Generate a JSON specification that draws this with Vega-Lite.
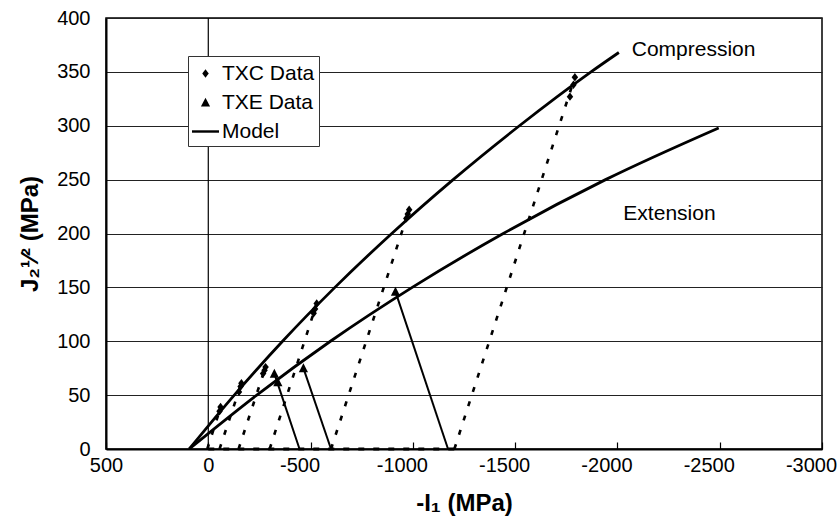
{
  "$schema": "https://vega.github.io/schema/vega-lite/v6.json",
  "width": 716,
  "height": 431,
  "autosize": {"type": "none"},
  "padding": {"left": 106, "top": 18, "right": 16, "bottom": 68},
  "config": {
    "font": "Liberation Sans",
    "view": {"stroke": "black", "strokeWidth": 1.5},
    "axis": {
      "domainColor": "black", "domainWidth": 2,
      "labelColor": "black", "labelFont": "Liberation Sans", "labelFontSize": 20,
      "titleFont": "Liberation Sans", "titleFontSize": 24, "titleFontWeight": "bold", "titleColor": "black",
      "gridColor": "#222", "gridWidth": 1, "gridOpacity": 1, "tickColor": "black"
    }
  },
  "datasets": {
    "zero": [{"x": 0, "y": 0, "y2": 400}],
    "model": [
      {"curve": "Compression", "x": 93, "y": 0},
      {"curve": "Compression", "x": -127, "y": 50},
      {"curve": "Compression", "x": -363, "y": 100},
      {"curve": "Compression", "x": -619, "y": 150},
      {"curve": "Compression", "x": -897, "y": 200},
      {"curve": "Compression", "x": -1197, "y": 250},
      {"curve": "Compression", "x": -1521, "y": 300},
      {"curve": "Compression", "x": -1871, "y": 350},
      {"curve": "Compression", "x": -2007, "y": 368},
      {"curve": "Extension", "x": 93, "y": 0},
      {"curve": "Extension", "x": -237, "y": 50},
      {"curve": "Extension", "x": -597, "y": 100},
      {"curve": "Extension", "x": -997, "y": 150},
      {"curve": "Extension", "x": -1442, "y": 200},
      {"curve": "Extension", "x": -1942, "y": 250},
      {"curve": "Extension", "x": -2495, "y": 298}
    ],
    "loading": [
      {"path": "p1", "x": 5, "y": 0}, {"path": "p1", "x": -58, "y": 37},
      {"path": "p2", "x": -55, "y": 0}, {"path": "p2", "x": -160, "y": 60},
      {"path": "p3", "x": -148, "y": 0}, {"path": "p3", "x": -278, "y": 75},
      {"path": "p4", "x": -300, "y": 0}, {"path": "p4", "x": -528, "y": 134},
      {"path": "p5", "x": -600, "y": 0}, {"path": "p5", "x": -980, "y": 221},
      {"path": "p6", "x": -1203, "y": 0}, {"path": "p6", "x": -1790, "y": 344}
    ],
    "txepaths": [
      {"path": "u1", "x": -446, "y": 0}, {"path": "u1", "x": -323, "y": 70},
      {"path": "u2", "x": -600, "y": 0}, {"path": "u2", "x": -465, "y": 75},
      {"path": "u3", "x": -1172, "y": 0}, {"path": "u3", "x": -915, "y": 146}
    ],
    "hydro": [{"x": 0, "y": 0}, {"x": -1210, "y": 0}],
    "points": [
      {"series": "TXC Data", "x": -55, "y": 35},
      {"series": "TXC Data", "x": -60, "y": 39},
      {"series": "TXC Data", "x": -150, "y": 53},
      {"series": "TXC Data", "x": -158, "y": 58},
      {"series": "TXC Data", "x": -162, "y": 61},
      {"series": "TXC Data", "x": -268, "y": 70},
      {"series": "TXC Data", "x": -275, "y": 73},
      {"series": "TXC Data", "x": -280, "y": 76},
      {"series": "TXC Data", "x": -515, "y": 126},
      {"series": "TXC Data", "x": -522, "y": 130},
      {"series": "TXC Data", "x": -530, "y": 135},
      {"series": "TXC Data", "x": -968, "y": 214},
      {"series": "TXC Data", "x": -975, "y": 218},
      {"series": "TXC Data", "x": -982, "y": 222},
      {"series": "TXC Data", "x": -1768, "y": 327},
      {"series": "TXC Data", "x": -1785, "y": 338},
      {"series": "TXC Data", "x": -1792, "y": 345},
      {"series": "TXE Data", "x": -323, "y": 70},
      {"series": "TXE Data", "x": -340, "y": 62},
      {"series": "TXE Data", "x": -465, "y": 75},
      {"series": "TXE Data", "x": -915, "y": 146}
    ],
    "labels": [
      {"label": "Compression", "x": -2070, "y": 370},
      {"label": "Extension", "x": -2029, "y": 218}
    ]
  },
  "encoding": {
    "x": {
      "field": "x", "type": "quantitative",
      "scale": {"domain": [-3000, 500], "reverse": true, "nice": false, "zero": false},
      "axis": {
        "title": "-I₁ (MPa)", "values": [500, 0, -500, -1000, -1500, -2000, -2500, -3000],
        "labelExpr": "'' + datum.value", "grid": false, "ticks": true, "tickSize": -7, "tickWidth": 1.2,
        "labelOffset": {"condition": {"test": "datum.value < 0", "value": -11}, "value": 0},
        "labelPadding": 13, "titlePadding": 16, "labelFlush": false, "labelOverlap": false
      }
    },
    "y": {
      "field": "y", "type": "quantitative",
      "scale": {"domain": [0, 400], "nice": false},
      "axis": {
        "title": "J₂¹⁄² (MPa)", "values": [0, 50, 100, 150, 200, 250, 300, 350, 400],
        "grid": true, "ticks": false, "labelPadding": 16, "titlePadding": 14, "labelOverlap": false
      }
    }
  },
  "layer": [
    {
      "data": {"name": "zero"},
      "mark": {"type": "rule", "color": "black", "strokeWidth": 1.2},
      "encoding": {"y2": {"field": "y2"}}
    },
    {
      "data": {"name": "hydro"},
      "mark": {"type": "line", "color": "black", "strokeWidth": 3, "strokeDash": [6, 9]},
      "encoding": {}
    },
    {
      "data": {"name": "loading"},
      "mark": {"type": "line", "color": "black", "strokeWidth": 2.6, "strokeDash": [5, 10]},
      "encoding": {"detail": {"field": "path"}}
    },
    {
      "data": {"name": "txepaths"},
      "mark": {"type": "line", "color": "black", "strokeWidth": 2},
      "encoding": {"detail": {"field": "path"}}
    },
    {
      "data": {"name": "model"},
      "mark": {"type": "line", "color": "black", "strokeWidth": 2.8, "interpolate": "monotone"},
      "encoding": {"detail": {"field": "curve"}}
    },
    {
      "data": {"name": "points"},
      "mark": {"type": "point", "filled": true, "color": "black", "opacity": 1, "size": 729},
      "encoding": {
        "shape": {
          "field": "series", "type": "nominal",
          "scale": {
            "domain": ["TXC Data", "TXE Data", "Model"],
            "range": ["M0,-0.31L0.24,0L0,0.31L-0.24,0Z", "M0,-0.36L0.34,0.3L-0.34,0.3Z", "M-1,-0.09L1,-0.09L1,0.09L-1,0.09Z"]
          },
          "legend": {
            "title": null, "orient": "none", "legendX": 82, "legendY": 38,
            "symbolSize": 729, "symbolFillColor": "black", "symbolStrokeWidth": 0, "symbolOpacity": 1,
            "labelFontSize": 21, "labelFont": "Liberation Sans", "labelColor": "black", "labelOffset": 3,
            "padding": 4, "rowPadding": 5, "strokeColor": "#333", "fillColor": "white",
            "encode": {"legend": {"update": {"strokeWidth": {"value": 1.5}}}}
          }
        }
      }
    },
    {
      "data": {"name": "labels"},
      "mark": {"type": "text", "align": "left", "baseline": "middle", "font": "Liberation Sans", "fontSize": 21, "color": "black"},
      "encoding": {"text": {"field": "label"}}
    }
  ]
}
